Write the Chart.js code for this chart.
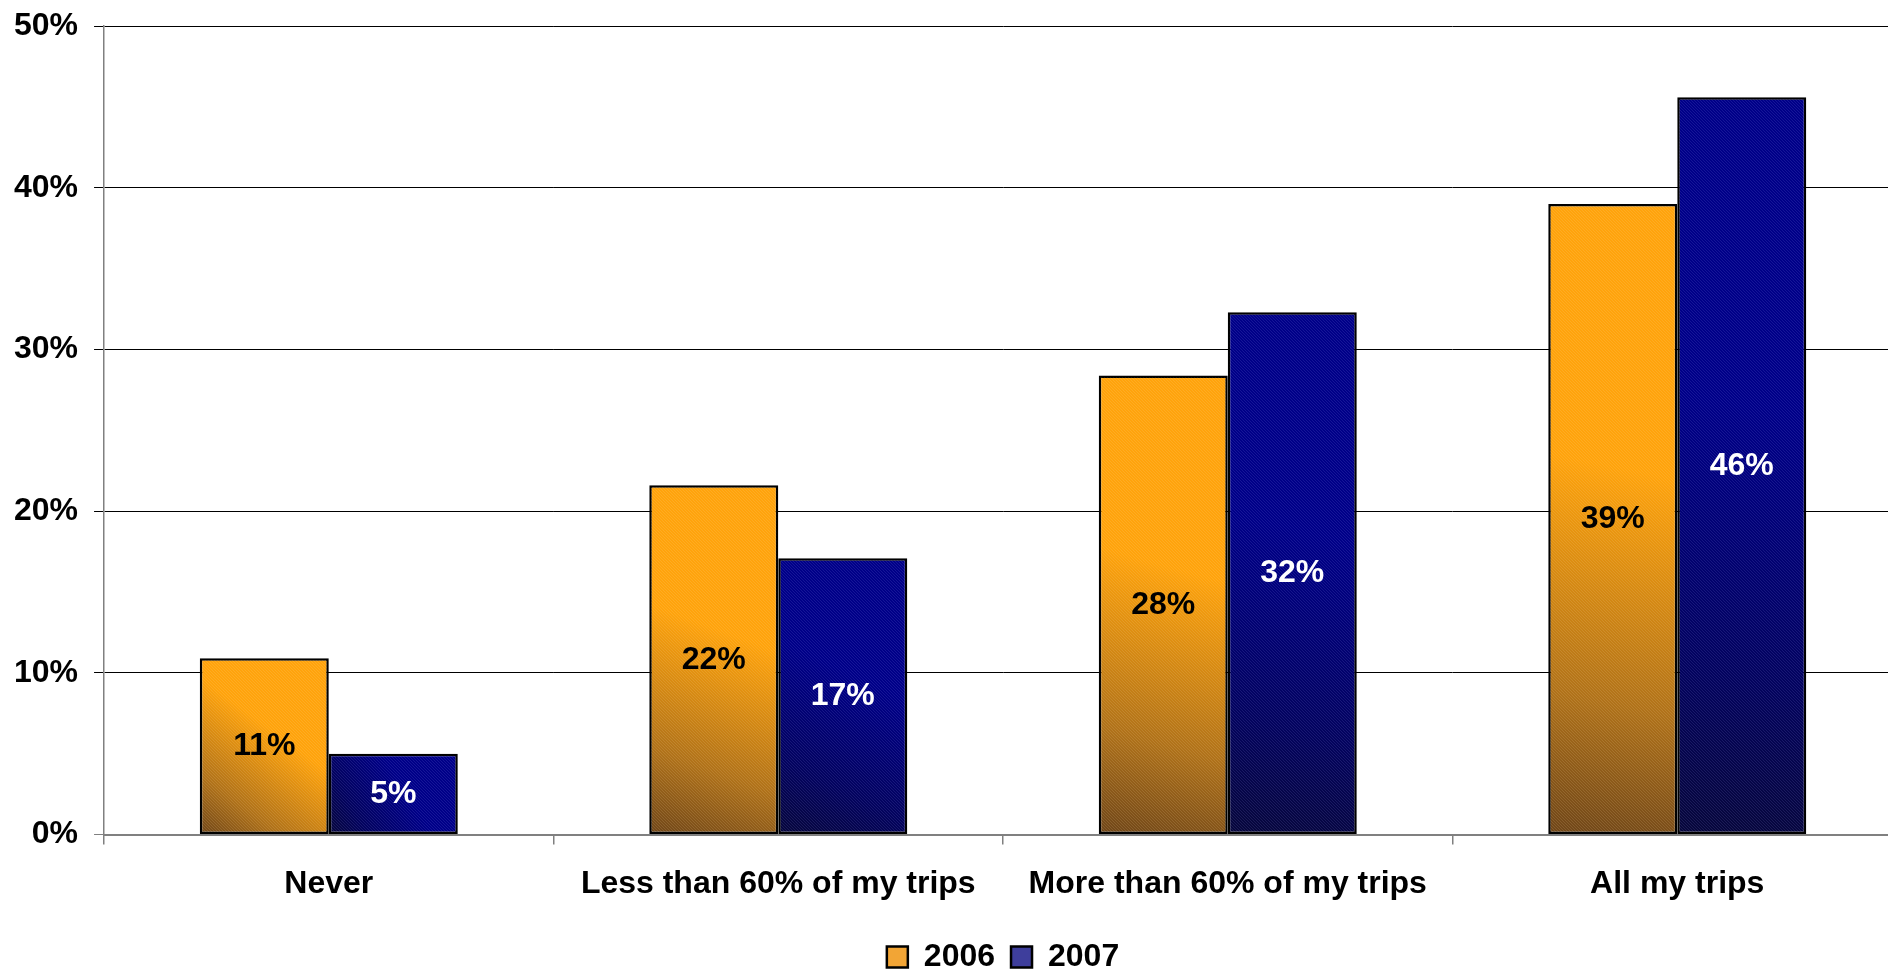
<!DOCTYPE html>
<html>
<head>
<meta charset="utf-8">
<title>Share of trips</title>
<script src="https://cdn.jsdelivr.net/npm/chart.js@4.4.1/dist/chart.umd.min.js"></script>
<style>
  html, body { margin: 0; padding: 0; background: #fff; overflow: hidden; }
  #wrap { position: relative; left: -2px; top: -9px; width: 1912px; height: 992px; }
</style>
</head>
<body>
<div id="wrap"><canvas id="tripsChart"></canvas></div>
<script>
(function(){
    'use strict';

    const categories = ['Never', 'Less than 60% of my trips', 'More than 60% of my trips', 'All my trips'];
    const seriesNames = ['2006', '2007'];
    const share2006 = [10.9, 21.6, 28.4, 39.0];
    const share2007 = [5.0, 17.1, 32.3, 45.6];
    const yTicks = [0, 10, 20, 30, 40, 50];

    const FONT = "'Liberation Sans', Arial, Helvetica, sans-serif";

    // shading per series: dark bottom-left corner -> bright top-right corner
    const FILLS = {
        '2006': { stops: ['#6e4519', '#b0721a', '#ffa30c'], legend: '#f2a535', text: '#000', dots: 'rgba(255,230,170,0.14)' },
        '2007': { stops: ['#07073a', '#03035e', '#000088'], legend: '#3e3e9c', text: '#fff', dots: 'rgba(170,170,255,0.13)' }
    };

    function qs(id){ return document.getElementById(id); }

    // fine stipple used as the bar texture
    function makeTexture(color){
        const c = document.createElement('canvas');
        c.width = 3; c.height = 3;
        const g = c.getContext('2d');
        g.fillStyle = color;
        g.fillRect(0, 0, 1, 1);
        g.fillRect(1, 1, 1, 1);
        g.fillRect(2, 2, 1, 1);
        return c;
    }

    function barRect(el){
        const half = el.width / 2;
        return {
            left: el.x - half,
            right: el.x + half,
            top: Math.min(el.y, el.base),
            bottom: Math.max(el.y, el.base)
        };
    }

    function cornerGradient(ctx, r, f){
        const grad = ctx.createLinearGradient(r.left, r.bottom, r.right, r.top);
        grad.addColorStop(0, f.stops[0]);
        grad.addColorStop(0.22, f.stops[1]);
        grad.addColorStop(0.58, f.stops[2]);
        grad.addColorStop(1, f.stops[2]);
        return grad;
    }

    const barFillPlugin = {
        id: 'barFill',
        beforeDatasetsDraw(chart){
            const ctx = chart.ctx;
            chart.data.datasets.forEach((ds, di) => {
                const meta = chart.getDatasetMeta(di);
                const f = FILLS[ds.label];
                meta.data.forEach(el => {
                    el.options.backgroundColor = cornerGradient(ctx, barRect(el), f);
                });
            });
        },
        afterDatasetsDraw(chart){
            const ctx = chart.ctx;
            chart.data.datasets.forEach((ds, di) => {
                const meta = chart.getDatasetMeta(di);
                const f = FILLS[ds.label];
                const pat = ctx.createPattern(makeTexture(f.dots), 'repeat');
                meta.data.forEach((el, i) => {
                    const r = barRect(el);
                    ctx.save();
                    ctx.fillStyle = pat;
                    ctx.fillRect(r.left + 2, r.top + 2, r.right - r.left - 4, r.bottom - r.top - 4);
                    ctx.restore();

                    // value label in the middle of the bar
                    const v = ds.data[i];
                    ctx.save();
                    ctx.font = 'bold 32px ' + FONT;
                    ctx.fillStyle = f.text;
                    ctx.textAlign = 'center';
                    ctx.textBaseline = 'middle';
                    ctx.fillText(Math.round(v) + '%', el.x, (r.top + r.bottom) / 2);
                    ctx.restore();
                });
            });
        }
    };

    function makeDataset(name, values){
        const f = FILLS[name];
        return {
            label: name,
            data: values,
            // function keeps each bar's options object separate
            backgroundColor: () => f.legend,
            borderColor: '#000',
            borderWidth: 2.5,
            borderSkipped: false,
            categoryPercentage: 0.574,
            barPercentage: 1.0
        };
    }

    function createChart(){
        Chart.defaults.color = '#000';
        Chart.defaults.font.family = FONT;

        return new Chart(qs('tripsChart').getContext('2d'), {
            type: 'bar',
            data: {
                labels: categories,
                datasets: [
                    makeDataset(seriesNames[0], share2006),
                    makeDataset(seriesNames[1], share2007)
                ]
            },
            options: {
                responsive: true,
                maintainAspectRatio: false,
                animation: false,
                layout: { padding: { left: 0, right: 8, top: 17, bottom: 0 } },
                scales: {
                    x: {
                        grid: {
                            offset: true,
                            drawOnChartArea: false,
                            tickLength: 10,
                            color: '#808080',
                            lineWidth: 1.5
                        },
                        border: { color: '#808080', width: 2 },
                        ticks: {
                            padding: 20,
                            font: { size: 32, weight: 'bold' },
                            maxRotation: 0,
                            autoSkip: false
                        },
                        afterFit(scale){ scale.height += 2; }
                    },
                    y: {
                        min: yTicks[0],
                        max: yTicks[yTicks.length - 1],
                        afterBuildTicks(scale){
                            scale.ticks = yTicks.map(v => ({ value: v }));
                        },
                        grid: {
                            color: c => c.tick && c.tick.value === 0 ? '#808080' : '#000',
                            lineWidth: 1,
                            tickLength: 10
                        },
                        border: { color: '#808080', width: 1.5 },
                        ticks: {
                            padding: 16,
                            font: { size: 32, weight: 'bold' },
                            callback: v => v + '%'
                        }
                    }
                },
                plugins: {
                    legend: {
                        position: 'bottom',
                        fullSize: false,
                        labels: {
                            boxWidth: 21,
                            boxHeight: 21,
                            padding: 16,
                            font: { size: 32, weight: 'bold' }
                        }
                    },
                    tooltip: { enabled: false }
                }
            },
            plugins: [barFillPlugin]
        });
    }

    document.addEventListener('DOMContentLoaded', createChart);
})();
</script>
</body>
</html>
